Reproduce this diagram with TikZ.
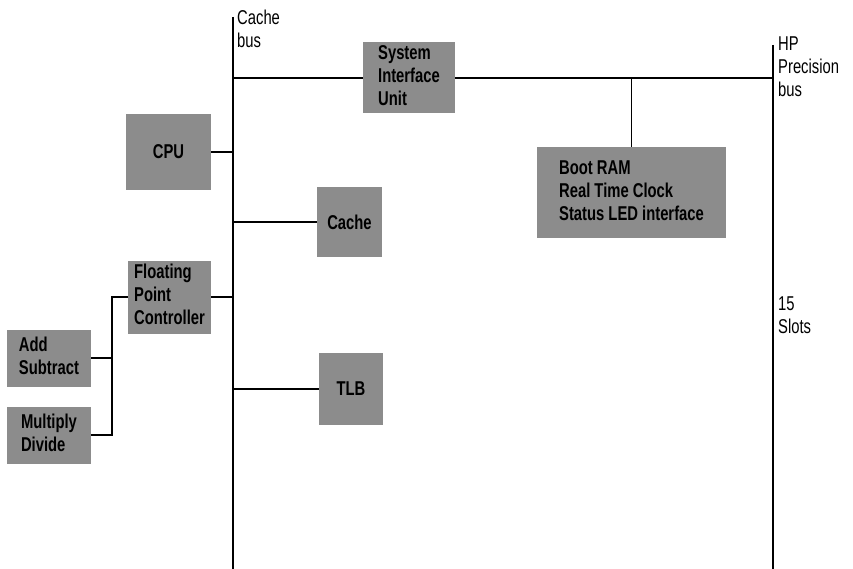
\documentclass[tikz,border=0pt]{standalone}
\usepackage{fontspec}
\setmainfont{Liberation Sans}[FakeStretch=0.74]
\usetikzlibrary{positioning,calc}
\definecolor{cShade}{HTML}{8C8C8C}

\begin{document}
\begin{tikzpicture}[
  x=1pt, y=-1pt,
  font=\fontsize{20}{23}\selectfont,
  unit/.style={fill=cShade, inner sep=0pt, align=#1,
               font=\fontsize{20}{23}\selectfont\bfseries},
  unit/.default=center,
  bus/.style={line width=1.6pt},
  link/.style={line width=1.5pt},
  tag/.style={anchor=north west, align=left, inner sep=0pt},
]
\useasboundingbox (0,0) rectangle (853,569);

% ---- Buses ----
\coordinate (cbtop) at (233,17);
\coordinate (cbbot) at (233,569);
\coordinate (hptop) at (773,45);
\coordinate (hpbot) at (773,569);
\draw[bus] (cbtop) -- (cbbot);
\draw[bus] (hptop) -- (hpbot);
\node[tag] (cbname) at (237,10) {Cache\\bus};
\node[tag] (hpname) at (778,37) {HP\\Precision\\bus};
\node[tag] (slots) at (778,297) {15\\Slots};

% ---- Units ----
\node[unit, minimum width=92pt, minimum height=71pt] (siu) at (409,78)
  {\begin{tabular}{@{}l@{}}System\\Interface\\Unit\end{tabular}};
\node[unit, minimum width=189pt, minimum height=91pt] (boot) at (631.5,192.5)
  {\begin{tabular}{@{}l@{}}Boot RAM\\Real Time Clock\\Status LED interface\end{tabular}};
\node[unit, minimum width=85pt, minimum height=76pt] (cpu) at (168.5,152) {CPU};
\node[unit, minimum width=65pt, minimum height=70pt] (cache) at (349.5,222) {Cache};
\node[unit, minimum width=83pt, minimum height=73pt] (fpc) at (169.5,297)
  {\begin{tabular}{@{}l@{}}Floating\\Point\\Controller\end{tabular}};
\node[unit, minimum width=84pt, minimum height=57pt] (addsub) at (49,358)
  {\begin{tabular}{@{}l@{}}Add\\Subtract\end{tabular}};
\node[unit, minimum width=84pt, minimum height=57pt] (muldiv) at (49,435)
  {\begin{tabular}{@{}l@{}}Multiply\\Divide\end{tabular}};
\node[unit, minimum width=64pt, minimum height=72pt] (tlb) at (351,389) {TLB};

% ---- Links ----
\coordinate (fpj) at (112,301);
\draw[link] (siu.west) -- (siu.west -| cbtop);
\draw[link] (siu.east) -- (siu.east -| hptop);
\draw[link] (boot.north) -- (boot.north |- siu.east);
\draw[link] (cpu.east) -- (cpu.east -| cbtop);
\draw[link] (cache.west) -- (cache.west -| cbtop);
\draw[link] (fpc.east) -- (fpc.east -| cbtop);
\draw[link] (tlb.west) -- (tlb.west -| cbtop);
\draw[link] (fpc.west) -- (fpc.west -| fpj) |- (muldiv.east);
\draw[link] (addsub.east) -- (addsub.east -| fpj);

\end{tikzpicture}
\end{document}
